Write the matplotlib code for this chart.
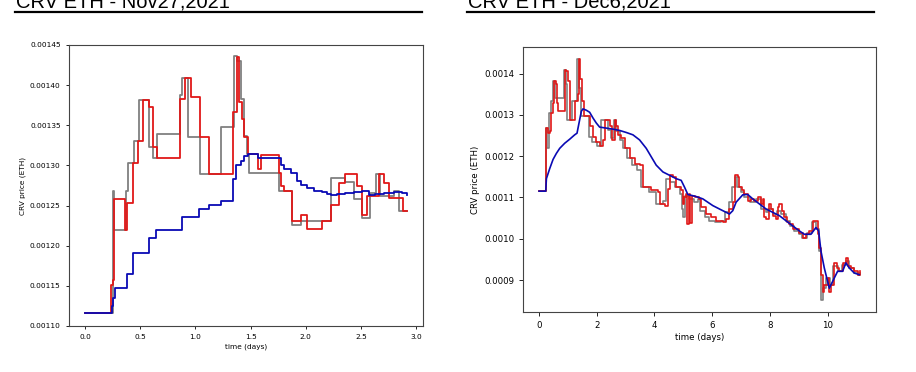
import matplotlib
matplotlib.use("Agg")
import matplotlib.pyplot as plt
from matplotlib.lines import Line2D

# ---------- data ---------- #
# left panel (Nov 27)
nov_gray_t = [0.0, 0.249, 0.261, 0.367, 0.385, 0.445, 0.487, 0.577, 0.616, 0.655,
              0.857, 0.878, 0.932, 1.037, 1.232, 1.347, 1.380, 1.413, 1.437, 1.467,
              1.488, 1.758, 1.879, 1.954, 2.230, 2.359, 2.435, 2.510, 2.579, 2.639,
              2.675, 2.795, 2.840, 2.916]
nov_gray_v = [0.0011163, 0.0012680, 0.0012200, 0.0012680, 0.0013036, 0.0013307,
              0.0013817, 0.0013224, 0.0013098, 0.0013391, 0.0013872, 0.0014093,
              0.0013349, 0.0012889, 0.0013475, 0.0014365, 0.0014300, 0.0013830,
              0.0013370, 0.0013140, 0.0012910, 0.0012680, 0.0012262, 0.0012304,
              0.0012848, 0.0012793, 0.0012576, 0.0012346, 0.0012660, 0.0012889,
              0.0012618, 0.0012680, 0.0012430, 0.0012430]

nov_red_t = [0.0, 0.234, 0.249, 0.261, 0.361, 0.376, 0.436, 0.481, 0.526, 0.577,
             0.616, 0.655, 0.857, 0.902, 0.956, 1.037, 1.127, 1.338, 1.377, 1.398,
             1.422, 1.443, 1.473, 1.563, 1.593, 1.758, 1.773, 1.803, 1.879, 1.954,
             2.014, 2.149, 2.230, 2.299, 2.359, 2.465, 2.510, 2.555, 2.660, 2.705,
             2.750, 2.885, 2.916]
nov_red_v = [0.0011163, 0.0011510, 0.0011572, 0.0012576, 0.0012200, 0.0012534,
             0.0013036, 0.0013307, 0.0013817, 0.0013725, 0.0013224, 0.0013098,
             0.0013830, 0.0014093, 0.0013851, 0.0013349, 0.0012889, 0.0013663,
             0.0014352, 0.0013788, 0.0013579, 0.0013349, 0.0013140, 0.0012952,
             0.0013128, 0.0012910, 0.0012743, 0.0012680, 0.0012304, 0.0012388,
             0.0012208, 0.0012304, 0.0012513, 0.0012785, 0.0012898, 0.0012743,
             0.0012388, 0.0012618, 0.0012889, 0.0012785, 0.0012597, 0.0012430,
             0.0012430]

nov_blue_t = [0.0, 0.240, 0.255, 0.270, 0.376, 0.436, 0.577, 0.646, 0.878, 1.028,
              1.127, 1.232, 1.338, 1.368, 1.413, 1.443, 1.473, 1.563, 1.773, 1.803,
              1.864, 1.924, 1.954, 2.014, 2.074, 2.149, 2.194, 2.224, 2.284, 2.359,
              2.435, 2.510, 2.570, 2.630, 2.705, 2.795, 2.870, 2.916]
nov_blue_v = [0.0011163, 0.0011250, 0.0011350, 0.0011468, 0.0011644, 0.0011915,
              0.0012091, 0.0012191, 0.0012354, 0.0012455, 0.0012501, 0.0012551,
              0.0012827, 0.0013000, 0.0013057, 0.0013120, 0.0013140, 0.0013098,
              0.0013000, 0.0012952, 0.0012910, 0.0012806, 0.0012760, 0.0012714,
              0.0012680, 0.0012668, 0.0012639, 0.0012626, 0.0012639, 0.0012651,
              0.0012668, 0.0012680, 0.0012626, 0.0012639, 0.0012651, 0.0012668,
              0.0012651, 0.0012626]

# right panel (Dec 6)
dec_gray_t = [0.0, 0.231, 0.27, 0.35, 0.43, 0.48, 0.56, 0.85, 0.93, 0.98, 1.15,
              1.32, 1.37, 1.45, 1.58, 1.72, 1.85, 2.02, 2.15, 2.40, 2.50, 2.60,
              2.66, 2.80, 2.90, 3.05, 3.22, 3.40, 3.52, 3.82, 4.05, 4.28, 4.40,
              4.55, 4.70, 4.88, 4.96, 5.00, 5.05, 5.20, 5.36, 5.50, 5.58, 5.75,
              5.90, 6.10, 6.30, 6.45, 6.58, 6.70, 6.78, 6.85, 6.99, 7.10, 7.30,
              7.52, 7.70, 7.85, 7.95, 8.10, 8.25, 8.40, 8.55, 8.70, 8.85, 9.00,
              9.12, 9.30, 9.45, 9.60, 9.70, 9.78, 9.84, 9.95, 10.10, 10.20, 10.35,
              10.50, 10.65, 10.75, 10.90, 11.05, 11.12]
dec_gray_v = [0.0011153, 0.0012679, 0.0012189, 0.0013046, 0.0013331, 0.0013821,
              0.0013413, 0.0014090, 0.0013739, 0.0012883, 0.0013331, 0.0014351,
              0.0013658, 0.0012964, 0.0012964, 0.0012475, 0.0012353, 0.0012246,
              0.0012883, 0.0012639, 0.0012434, 0.0012883, 0.0012597, 0.0012393,
              0.0012189, 0.0011945, 0.0011782, 0.0011659, 0.0011251, 0.0011129,
              0.0010843, 0.0010925, 0.0011455, 0.0011374, 0.0011251, 0.0011088,
              0.0010721, 0.0010517, 0.0011047, 0.0010966, 0.0010884, 0.0010966,
              0.0010680, 0.0010517, 0.0010436, 0.0010395, 0.0010436, 0.0010640,
              0.0010884, 0.0011251, 0.0011496, 0.0011251, 0.0011129, 0.0011007,
              0.0010884, 0.0010966, 0.0010721, 0.0010640, 0.0010721, 0.0010599,
              0.0010680, 0.0010599, 0.0010436, 0.0010313, 0.0010191, 0.0010109,
              0.0010028, 0.0010150, 0.0010395, 0.0010232, 0.0009702, 0.0008519,
              0.0008804, 0.0009049, 0.0008886, 0.0009334, 0.0009212, 0.0009375,
              0.0009457, 0.0009294, 0.0009171, 0.0009131, 0.0009171]

dec_red_t = [0.0, 0.254, 0.311, 0.369, 0.427, 0.484, 0.519, 0.577, 0.623, 0.657,
             0.888, 0.946, 1.003, 1.061, 1.234, 1.349, 1.384, 1.430, 1.499, 1.546,
             1.753, 1.869, 1.961, 2.099, 2.215, 2.272, 2.445, 2.537, 2.618, 2.676,
             2.734, 2.849, 2.964, 3.137, 3.310, 3.483, 3.599, 3.887, 4.118, 4.175,
             4.348, 4.464, 4.521, 4.637, 4.752, 4.925, 4.983, 5.017, 5.075, 5.133,
             5.190, 5.236, 5.306, 5.421, 5.536, 5.617, 5.790, 5.963, 6.136, 6.367,
             6.482, 6.598, 6.713, 6.805, 6.886, 6.943, 7.036, 7.116, 7.232, 7.347,
             7.463, 7.578, 7.693, 7.751, 7.809, 7.866, 7.982, 8.039, 8.120, 8.212,
             8.281, 8.328, 8.420, 8.501, 8.581, 8.674, 8.789, 8.904, 9.020, 9.135,
             9.250, 9.366, 9.481, 9.539, 9.654, 9.712, 9.769, 9.827, 9.885, 10.0,
             10.058, 10.115, 10.208, 10.311, 10.404, 10.519, 10.634, 10.692,
             10.807, 10.923, 11.038, 11.119]
dec_red_v = [0.0011153, 0.0012679, 0.0012556, 0.0012597, 0.0013046, 0.0013291,
             0.0013821, 0.0013739, 0.0013291, 0.0013087, 0.0014090, 0.0014065,
             0.0013821, 0.0012883, 0.0013331, 0.0013494, 0.0014351, 0.0013862,
             0.0013331, 0.0012964, 0.0012720, 0.0012475, 0.0012353, 0.0012246,
             0.0012393, 0.0012883, 0.0012720, 0.0012393, 0.0012883, 0.0012720,
             0.0012516, 0.0012434, 0.0012189, 0.0011945, 0.0011822, 0.0011782,
             0.0011251, 0.0011170, 0.0011129, 0.0010843, 0.0010803, 0.0011211,
             0.0011537, 0.0011496, 0.0011251, 0.0011186, 0.0010843, 0.0011020,
             0.0011088, 0.0010354, 0.0011088, 0.0010370, 0.0011047, 0.0011007,
             0.0010966, 0.0010762, 0.0010599, 0.0010517, 0.0010436, 0.0010395,
             0.0010476, 0.0010721, 0.0010884, 0.0011537, 0.0011496, 0.0011251,
             0.0011170, 0.0011088, 0.0010925, 0.0010966, 0.0010925, 0.0011007,
             0.0010843, 0.0010966, 0.0010517, 0.0010476, 0.0010843, 0.0010721,
             0.0010559, 0.0010476, 0.0010762, 0.0010843, 0.0010680, 0.0010517,
             0.0010395, 0.0010354, 0.0010232, 0.0010232, 0.0010150, 0.0010028,
             0.0010109, 0.0010191, 0.0010436, 0.0010436, 0.0010109, 0.0009783,
             0.0009131, 0.0008723, 0.0008886, 0.0009049, 0.0008723, 0.0008886,
             0.0009416, 0.0009294, 0.0009212, 0.0009416, 0.0009538, 0.0009334,
             0.0009294, 0.0009212, 0.0009131, 0.0009212]

dec_blue_t = [0.0, 0.231, 0.254, 0.369, 0.484, 0.600, 0.715, 0.888, 1.061, 1.234,
              1.315, 1.407, 1.465, 1.522, 1.638, 1.753, 1.869, 1.984, 2.099, 2.330,
              2.561, 2.791, 3.022, 3.253, 3.483, 3.714, 3.887, 4.060, 4.291, 4.521,
              4.752, 4.925, 5.040, 5.156, 5.440, 5.675, 6.021, 6.251, 6.482, 6.598,
              6.713, 6.828, 7.059, 7.232, 7.405, 7.636, 7.866, 8.097, 8.328, 8.558,
              8.789, 9.020, 9.193, 9.423, 9.596, 9.689, 9.769, 9.885, 10.058,
              10.173, 10.346, 10.519, 10.634, 10.750, 10.923, 11.096]
dec_blue_v = [0.0011153, 0.0011153, 0.0011455, 0.0011700, 0.0011920, 0.0012067,
              0.0012189, 0.0012312, 0.0012410, 0.0012516, 0.0012556, 0.0012883,
              0.0013087, 0.0013144, 0.0013111, 0.0013062, 0.0012923, 0.0012801,
              0.0012703, 0.0012679, 0.0012654, 0.0012622, 0.0012573, 0.0012516,
              0.0012393, 0.0012189, 0.0011985, 0.0011782, 0.0011618, 0.0011537,
              0.0011455, 0.0011414, 0.0011251, 0.0011072, 0.0011023, 0.0010966,
              0.0010803, 0.0010721, 0.0010640, 0.0010599, 0.0010680, 0.0010884,
              0.0011064, 0.0011072, 0.0010966, 0.0010843, 0.0010721, 0.0010640,
              0.0010560, 0.0010436, 0.0010313, 0.0010191, 0.0010109, 0.0010109,
              0.0010272, 0.0010191, 0.0009702, 0.0009294, 0.0008804, 0.0008967,
              0.0009212, 0.0009212, 0.0009416, 0.0009294, 0.0009171, 0.0009131]

titles = ["CRV ETH - Nov27,2021", "CRV ETH - Dec6,2021"]

gray_c = "#808080"
red_c = "#e01818"
blue_c = "#0a0ab4"

# ---------- figure ---------- #
fig = plt.figure(figsize=(9.16, 3.72), dpi=100)

ax1 = fig.add_axes([0.0753, 0.1237, 0.3865, 0.7554])
ax1.plot(nov_gray_t, nov_gray_v, color=gray_c, lw=1.3, drawstyle="steps-post")
ax1.plot(nov_red_t, nov_red_v, color=red_c, lw=1.3, drawstyle="steps-post")
ax1.plot(nov_blue_t, nov_blue_v, color=blue_c, lw=1.3, drawstyle="steps-post")
ax1.set_ylim(0.0011, 0.00145)
ax1.set_xticks([0.0, 0.5, 1.0, 1.5, 2.0, 2.5, 3.0])
ax1.tick_params(labelsize=5.3, length=2.5, width=0.6)
ax1.set_xlabel("time (days)", fontsize=5.3, labelpad=2)
ax1.set_ylabel("CRV price (ETH)", fontsize=5.3, labelpad=3)

ax2 = fig.add_axes([0.571, 0.1613, 0.3853, 0.7124])
ax2.plot(dec_gray_t, dec_gray_v, color=gray_c, lw=1.2, drawstyle="steps-post")
ax2.plot(dec_red_t, dec_red_v, color=red_c, lw=1.2, drawstyle="steps-post")
ax2.plot(dec_blue_t, dec_blue_v, color=blue_c, lw=1.2)
ax2.set_yticks([0.0009, 0.0010, 0.0011, 0.0012, 0.0013, 0.0014])
ax2.tick_params(labelsize=6.2, length=3, width=0.6)
ax2.set_xlabel("time (days)", fontsize=6.2, labelpad=2)
ax2.set_ylabel("CRV price (ETH)", fontsize=6.2, labelpad=3)

for ax in (ax1, ax2):
    for s in ax.spines.values():
        s.set_color("#444444")
        s.set_linewidth(0.8)

# page headings (cut off at the top edge) and their rules
for x0, x1, txt in [(0.0175, 0.4607, titles[0]), (0.511, 0.954, titles[1])]:
    fig.text(x0, 1 - 8 / 372, txt, fontsize=14.5, family="Liberation Sans",
             ha="left", va="baseline", color="black")
    fig.add_artist(Line2D([x0 - 0.001, x1], [1 - 12 / 372] * 2,
                          color="black", lw=1.6, transform=fig.transFigure))

fig.savefig("out.png", dpi=100)
